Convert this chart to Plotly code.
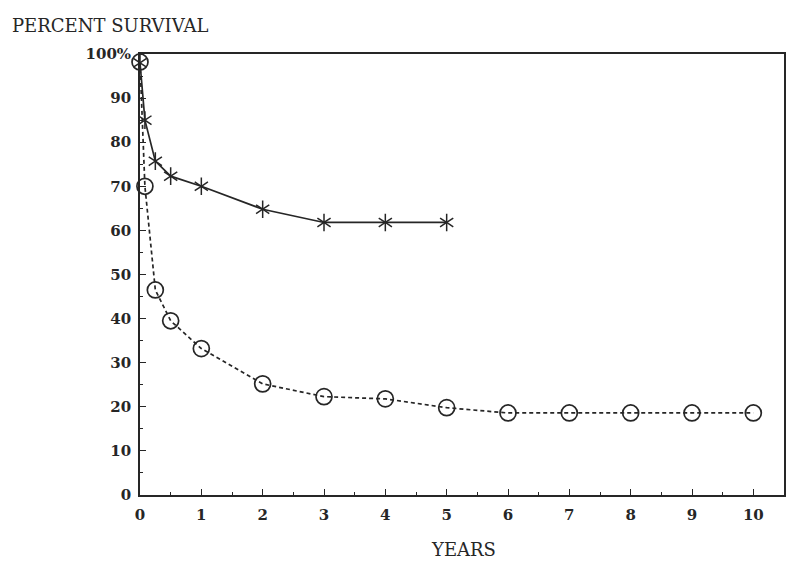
import plotly.graph_objects as go

# Data
years_star = [0, 0.08, 0.25, 0.5, 1, 2, 3, 4, 5]
surv_star = [98, 85, 75.7, 72.3, 70, 64.8, 61.8, 61.8, 61.8]

years_circ = [0, 0.08, 0.25, 0.5, 1, 2, 3, 4, 5, 6, 7, 8, 9, 10]
surv_circ = [98.2, 70, 46.5, 39.5, 33.2, 25.2, 22.3, 21.8, 19.8, 18.6, 18.6, 18.6, 18.6, 18.6]

x_ticks = list(range(0, 11))
y_ticks = [0, 10, 20, 30, 40, 50, 60, 70, 80, 90, 100]
y_labels = ["0", "10", "20", "30", "40", "50", "60", "70", "80", "90", "100%"]

ink = "#262626"
fam = "DejaVu Serif, Liberation Serif, serif"
tick_font = dict(family=fam, size=15, color=ink, weight="bold")
title_font = dict(family=fam, size=18, color=ink)

# page body has an 8px margin, so the figure is sized to fit inside it
W, H = 792, 563
pl, pr, pt, pb = 132, 16, 46, 76
pw, ph = W - pl - pr, H - pt - pb

fig = go.Figure()
fig.add_trace(go.Scatter(
    x=years_circ, y=surv_circ, mode="lines+markers",
    line=dict(color=ink, width=1.7, dash="4px,3px"),
    marker=dict(symbol="circle-open", size=16, color=ink, line=dict(width=1.7)),
    showlegend=False, cliponaxis=False))
fig.add_trace(go.Scatter(
    x=years_star, y=surv_star, mode="lines",
    line=dict(color=ink, width=1.7), showlegend=False))
for sym in ["y-up-open", "y-down-open"]:
    fig.add_trace(go.Scatter(
        x=years_star, y=surv_star, mode="markers",
        marker=dict(symbol=sym, size=11, color=ink, line=dict(width=1.5, color=ink)),
        showlegend=False, cliponaxis=False))

def px_to_paper(x, y):
    return (x - pl) / pw, (H - pb - y) / ph

tx, ty = px_to_paper(2, 17)
yx, yy = px_to_paper(455, 541)

fig.update_layout(
    width=W, height=H,
    margin=dict(l=pl, r=pr, t=pt, b=pb, autoexpand=False),
    paper_bgcolor="white", plot_bgcolor="white",
    annotations=[
        dict(text="PERCENT SURVIVAL", x=tx, y=ty, xref="paper", yref="paper",
             showarrow=False, xanchor="left", yanchor="middle", font=title_font),
        dict(text="YEARS", x=yx, y=yy, xref="paper", yref="paper", showarrow=False,
             xanchor="center", yanchor="middle", font=title_font),
    ],
)

fig.update_xaxes(
    range=[0, 10.5], tickvals=x_ticks, ticks="inside", ticklen=6, tickwidth=1.3,
    tickcolor=ink, showline=True, linecolor=ink, linewidth=1.7, mirror=True,
    showgrid=False, zeroline=False, tickfont=tick_font, ticklabelstandoff=5,
    minor=dict(dtick=0.5, tick0=0, ticks="inside", ticklen=3, tickcolor=ink, showgrid=False),
)
fig.update_yaxes(
    range=[0, 100], tickvals=y_ticks, ticktext=y_labels, ticks="inside", ticklen=6,
    tickwidth=1.3, tickcolor=ink, showline=True, linecolor=ink, linewidth=1.7,
    mirror=True, showgrid=False, zeroline=False, tickfont=tick_font, ticklabelstandoff=4,
    minor=dict(dtick=5, tick0=0, ticks="inside", ticklen=3, tickcolor=ink, showgrid=False),
)

fig.write_html("out.html")
